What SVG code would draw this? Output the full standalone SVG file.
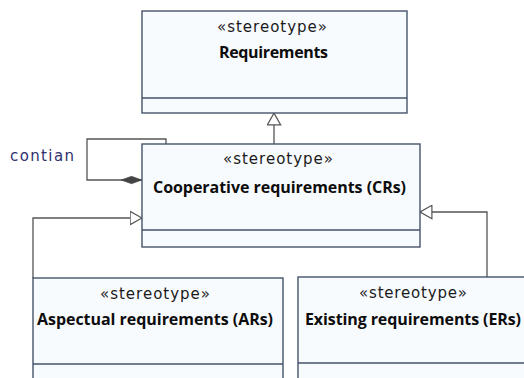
<svg xmlns="http://www.w3.org/2000/svg" width="524" height="378" viewBox="0 0 524 378">
  <style>
    .box { fill: #f8fbfe; stroke: #45536a; stroke-width: 1.4; }
    .sep { stroke: #45536a; stroke-width: 1.4; }
    .st { font-family: "DejaVu Sans", Verdana, sans-serif; font-size: 15px; fill: #1a1a1a; }
    .nm { font-family: "Open Sans", "DejaVu Sans", sans-serif; font-size: 16px; font-weight: bold; fill: #0d0d0d; }
    .lbl { font-family: "DejaVu Sans", Verdana, sans-serif; font-size: 15px; fill: #30306e; }
    .edge { fill: none; stroke: #555; stroke-width: 1.3; }
  </style>
  <defs>
    <marker id="gen" markerUnits="userSpaceOnUse" viewBox="0 0 13 15" refX="12.5" refY="7.5" markerWidth="13" markerHeight="15" orient="auto">
      <path d="M0.6,0.8 L12.4,7.5 L0.6,14.2 Z" fill="#ffffff" stroke="#555" stroke-width="1.2"/>
    </marker>
    <marker id="comp" markerUnits="userSpaceOnUse" viewBox="0 0 21 9" refX="21" refY="4.5" markerWidth="21" markerHeight="9" orient="auto">
      <path d="M0,4.5 L10.5,0.8 L21,4.5 L10.5,8.2 Z" fill="#444" stroke="#444" stroke-width="0.6"/>
    </marker>
  </defs>
  <rect width="524" height="378" fill="#ffffff"/>

  <g id="connectors">
    <path class="edge" d="M274,144 L274,113" marker-end="url(#gen)"/>
    <path class="edge" d="M166,144 L166,139 L87,139 L87,180 L142,180" marker-end="url(#comp)"/>
    <path class="edge" d="M33,278 L33,218 L142,218" marker-end="url(#gen)"/>
    <path class="edge" d="M487,277 L487,212 L420,212" marker-end="url(#gen)"/>
    <text class="lbl" x="10" y="161" textLength="64">contian</text>
  </g>

  <g id="requirements">
    <rect class="box" x="142" y="11" width="265" height="102"/>
    <line class="sep" x1="142" y1="98" x2="407" y2="98"/>
    <text class="st" x="217" y="32" textLength="110">«stereotype»</text>
    <text class="nm" x="219" y="58" textLength="109">Requirements</text>
  </g>

  <g id="cooperative">
    <rect class="box" x="142" y="144" width="278" height="103"/>
    <line class="sep" x1="142" y1="230" x2="420" y2="230"/>
    <text class="st" x="223" y="164" textLength="110">«stereotype»</text>
    <text class="nm" x="153" y="193" textLength="253">Cooperative requirements (CRs)</text>
  </g>

  <g id="aspectual">
    <rect class="box" x="33" y="278" width="250" height="120"/>
    <line class="sep" x1="33" y1="364" x2="283" y2="364"/>
    <text class="st" x="100" y="299" textLength="110">«stereotype»</text>
    <text class="nm" x="37" y="325" textLength="236">Aspectual requirements (ARs)</text>
  </g>

  <g id="existing">
    <rect class="box" x="298" y="277" width="240" height="120"/>
    <line class="sep" x1="298" y1="363" x2="538" y2="363"/>
    <text class="st" x="359" y="298" textLength="108">«stereotype»</text>
    <text class="nm" x="305" y="325" textLength="216">Existing requirements (ERs)</text>
  </g>
</svg>
